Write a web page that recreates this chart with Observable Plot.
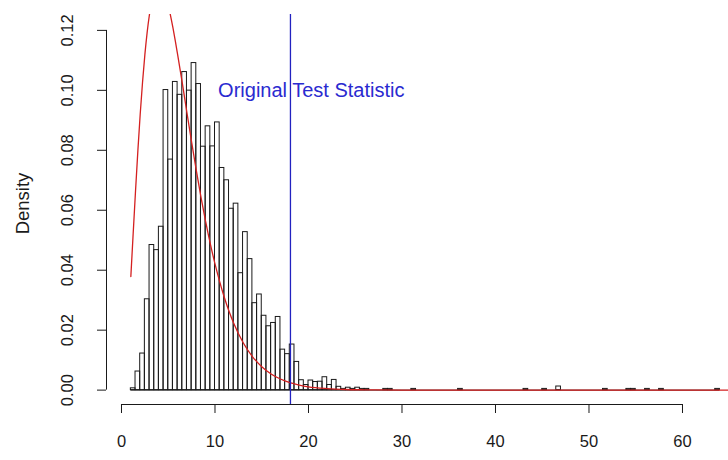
<!DOCTYPE html>
<html>
<head>
<meta charset="utf-8">
<script src="https://cdn.jsdelivr.net/npm/d3@7"></script>
<script src="https://cdn.jsdelivr.net/npm/@observablehq/plot@0.6"></script>
<style>
  html, body { margin: 0; padding: 0; background: #ffffff; }
  #chart { width: 728px; height: 460px; }
</style>
</head>
<body>
<div id="chart"></div>
<script>
// ---------- data ----------
const binWidth = 0.5;
const firstBreak = 1.0;
// densities of the contiguous bins starting at firstBreak
const mainDensity = [
  0.0006, 0.0062, 0.0122, 0.0303, 0.0484, 0.0467, 0.0545, 0.1001, 0.0769, 0.1028,
  0.0985, 0.1061, 0.0999, 0.1091, 0.1021, 0.0812, 0.0880, 0.0813, 0.0893, 0.0741,
  0.0700, 0.0605, 0.0622, 0.0390, 0.0527, 0.0437, 0.0290, 0.0319, 0.0248, 0.0213,
  0.0224, 0.0244, 0.0135, 0.0120, 0.0152, 0.0094, 0.0033, 0.0017, 0.0032, 0.0027,
  0.0028, 0.0043, 0.0017, 0.0034, 0.0011, 0.0004, 0.0008, 0.0004, 0.0008, 0.0004,
  0.0004
];
// isolated tail bins (left edges) and their densities
const tailStarts  = [28.0, 28.5, 31.0, 36.0, 43.0, 45.0, 46.5, 51.5, 54.0, 54.5, 56.0, 57.5, 63.5];
const tailDensity = [0.0004, 0.0004, 0.0004, 0.0004, 0.0004, 0.0004, 0.0012, 0.0004, 0.0004, 0.0004, 0.0004, 0.0004, 0.0004];

// red reference density curve
const curveX = [1, 1.25, 1.5, 1.75, 2, 2.25, 2.5, 3, 3.5, 4, 4.5, 5, 5.5, 5.75, 6, 6.5, 7, 7.5, 8, 8.5,
                9, 9.5, 10, 10.5, 11, 11.5, 12, 13, 14, 15, 16, 17, 18, 19, 20, 22, 24, 26, 30, 40, 50, 66];
const curveY = [0.0379, 0.0523, 0.0664, 0.0798, 0.0920, 0.1027, 0.1119, 0.1255, 0.1330, 0.1353,
                0.1334, 0.1283, 0.1209, 0.1166, 0.1120, 0.1025, 0.0925, 0.0827, 0.0733, 0.0644,
                0.0562, 0.0488, 0.0421, 0.0362, 0.0309, 0.0263, 0.0223, 0.0159, 0.0112, 0.0078,
                0.0054, 0.0037, 0.0025, 0.0017, 0.0011, 0.0005, 0.0002, 0.0001, 0.0000, 0.0000,
                0.0000, 0.0000];

const statValue = 18.07;
const statLabel = "Original Test Statistic";
const statLabelX = 20.3;
const statLabelY = 0.10;

const xTicks = [0, 10, 20, 30, 40, 50, 60];
const yTicks = [0.00, 0.02, 0.04, 0.06, 0.08, 0.10, 0.12];
const yTitle = "Density";

// plotting-region limits (R's usr)
const xLimits = [-1.604, 64.92];
const yLimits = [-0.0048, 0.1253];

// ---------- derived tables ----------
const bins = mainDensity.map((d, i) => ({
    x1: firstBreak + i * binWidth, x2: firstBreak + (i + 1) * binWidth, y: d
  })).concat(tailStarts.map((s, i) => ({ x1: s, x2: s + binWidth, y: tailDensity[i] })));
const lastEdge = d3.max(bins, d => d.x2);
const curve = curveX.map((x, i) => ({ x, y: curveY[i] }));

const font = "'Liberation Sans', Arial, Helvetica, sans-serif";

const chart = Plot.plot({
  width: 728,
  height: 460,
  marginTop: 14,
  marginBottom: 56,
  marginLeft: 106,
  marginRight: 0,
  style: { fontFamily: font, fontSize: "16.5px", background: "#ffffff", color: "#1a1a1a" },
  x: { domain: xLimits, ticks: xTicks, tickSize: 9, tickFormat: () => "", label: null },
  y: { domain: yLimits, ticks: yTicks, tickSize: 9, tickFormat: () => "", label: null },
  marks: [
    // axis lines (from first to last tick, R style)
    Plot.ruleY([yLimits[0]], { x1: xTicks[0], x2: xTicks[xTicks.length - 1], stroke: "#1a1a1a" }),
    Plot.ruleX([xLimits[0]], { y1: yTicks[0], y2: yTicks[yTicks.length - 1], stroke: "#1a1a1a" }),
    // tick labels
    Plot.text(xTicks, { x: d => d, y: yLimits[0], text: d => String(d), dy: 37, lineAnchor: "middle",
                        fontSize: 16.5, fill: "#1a1a1a" }),
    Plot.text(yTicks, { x: xLimits[0], y: d => d, text: d => d.toFixed(2), rotate: -90, dx: -39,
                        textAnchor: "middle", lineAnchor: "middle", fontSize: 16.5, fill: "#1a1a1a" }),
    Plot.text([yTitle], { frameAnchor: "left", text: d => d, rotate: -90, dx: -83, dy: -6,
                          textAnchor: "middle", lineAnchor: "middle", fontSize: 18.5, fill: "#1a1a1a" }),
    // histogram
    Plot.ruleY([0], { x1: firstBreak, x2: lastEdge, stroke: "#1a1a1a" }),
    Plot.rectY(bins, { x1: "x1", x2: "x2", y: "y", fill: "none", stroke: "#1a1a1a", strokeWidth: 1 }),
    // density curve
    Plot.line(curve, { x: "x", y: "y", stroke: "#d42020", strokeWidth: 1.3, curve: "monotone-x", clip: true }),
    // observed statistic
    Plot.ruleX([statValue], { stroke: "#2222c0", strokeWidth: 1.3 }),
    Plot.text([statLabel], { x: statLabelX, y: statLabelY, text: d => d, fill: "#2a2ad0",
                             fontSize: 20, textAnchor: "middle", lineAnchor: "middle" })
  ]
});

document.getElementById("chart").appendChild(chart);
</script>
</body>
</html>
